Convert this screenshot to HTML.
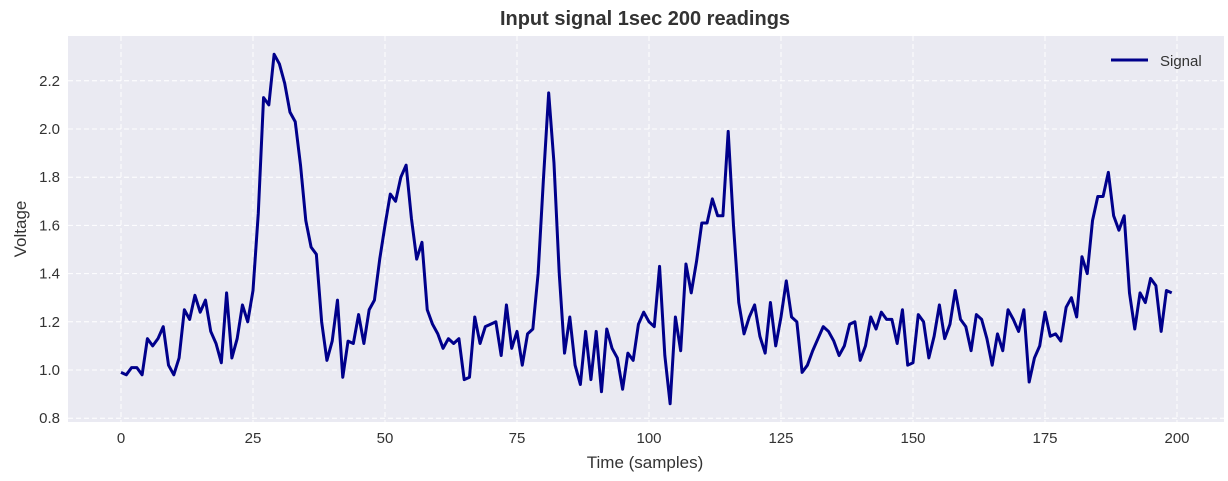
<!DOCTYPE html>
<html><head><meta charset="utf-8"><style>
body{margin:0;background:#fff;}
svg{display:block;font-family:"Liberation Sans",sans-serif;}
</style></head><body>
<svg id="chart" width="1228" height="481"></svg>
<script>
const values=[0.99,0.98,1.01,1.01,0.98,1.13,1.10,1.13,1.18,1.02,0.98,1.05,1.25,1.21,1.31,1.24,1.29,1.16,1.11,1.03,1.32,1.05,1.13,1.27,1.20,1.33,1.65,2.13,2.10,2.31,2.27,2.19,2.07,2.03,1.85,1.62,1.51,1.48,1.20,1.04,1.12,1.29,0.97,1.12,1.11,1.23,1.11,1.25,1.29,1.46,
1.60,1.73,1.70,1.80,1.85,1.63,1.46,1.53,1.25,1.19,1.15,1.09,1.13,1.11,1.13,0.96,0.97,1.22,1.11,1.18,1.19,1.20,1.06,1.27,1.09,1.16,1.02,1.15,1.17,1.40,1.79,2.15,1.86,1.40,1.07,1.22,1.02,0.94,1.16,0.96,1.16,0.91,1.17,1.09,1.05,0.92,1.07,1.04,1.19,1.24,
1.20,1.18,1.43,1.06,0.86,1.22,1.08,1.44,1.32,1.45,1.61,1.61,1.71,1.64,1.64,1.99,1.60,1.28,1.15,1.22,1.27,1.14,1.07,1.28,1.10,1.22,1.37,1.22,1.20,0.99,1.02,1.08,1.13,1.18,1.16,1.12,1.06,1.10,1.19,1.20,1.04,1.10,1.22,1.17,1.24,1.21,1.21,1.11,1.25,1.02,
1.03,1.23,1.20,1.05,1.14,1.27,1.13,1.19,1.33,1.21,1.18,1.08,1.23,1.21,1.13,1.02,1.15,1.08,1.25,1.21,1.16,1.25,0.95,1.05,1.10,1.24,1.14,1.15,1.12,1.26,1.30,1.22,1.47,1.40,1.62,1.72,1.72,1.82,1.64,1.58,1.64,1.32,1.17,1.32,1.28,1.38,1.35,1.16,1.33,1.32];
const xTicks=[0,25,50,75,100,125,150,175,200];
const yTicks=[0.8,1.0,1.2,1.4,1.6,1.8,2.0,2.2];
const L=68,R=1224,T=36,B=422;
const x=v=>121+v*5.28;
const y=v=>370-(v-1.0)*241;
const svg=document.getElementById('chart');
const NS='http://www.w3.org/2000/svg';
function mk(tag,attrs,parent){const e=document.createElementNS(NS,tag);for(const k in attrs)e.setAttribute(k,attrs[k]);(parent||svg).appendChild(e);return e;}
const bg=mk('rect',{x:L,y:T,width:R-L,height:B-T,fill:'#eaeaf2'});


xTicks.forEach(t=>{
 const g=mk('line',{x1:x(t),x2:x(t),y1:T,y2:B,stroke:'#fff','stroke-width':1,'stroke-dasharray':'5,3'});
 
 
 const tx=mk('text',{x:x(t),y:B+21,'text-anchor':'middle','font-size':15,fill:'#333'});
 tx.textContent=t;
 
 
});
yTicks.forEach(t=>{
 const g=mk('line',{x1:L,x2:R,y1:y(t),y2:y(t),stroke:'#fff','stroke-width':1,'stroke-dasharray':'5,3'});
 
 
 const tx=mk('text',{x:L-8,y:y(t)+5,'text-anchor':'end','font-size':15,fill:'#333'});
 tx.textContent=t.toFixed(1);
 
 
});
const line=mk('polyline',{points:values.map((v,i)=>x(i)+','+y(v)).join(' '),fill:'none',stroke:'#00008b','stroke-width':3,'stroke-linejoin':'round'});


const title=mk('text',{x:645,y:25,'text-anchor':'middle','font-size':20,'font-weight':'bold',fill:'#333'});
title.textContent='Input signal 1sec 200 readings';


const xl=mk('text',{x:645,y:468,'text-anchor':'middle','font-size':17,fill:'#333'});
xl.textContent='Time (samples)';


const yl=mk('text',{x:26,y:229,'text-anchor':'middle','font-size':17,fill:'#333',transform:'rotate(-90 26 229)'});
yl.textContent='Voltage';


const lg=mk('g',{});


mk('line',{x1:1111,x2:1148,y1:60,y2:60,stroke:'#00008b','stroke-width':3},lg);
const lt=mk('text',{x:1160,y:66,'font-size':15,fill:'#333'},lg);
lt.textContent='Signal';
</script>
</body></html>
